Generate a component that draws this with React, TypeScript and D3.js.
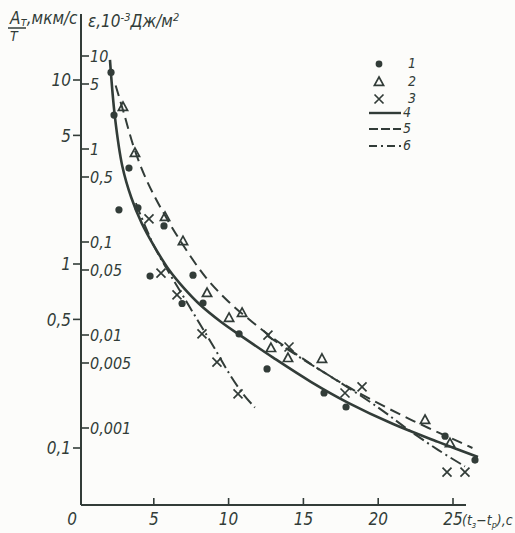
import React from "react";
import * as d3 from "d3";

// ---- data (t in s, A/T in left-axis units) ----
const DOT_T = [2.14, 2.34, 3.34, 2.67, 3.94, 5.68, 4.75, 7.62, 6.89, 8.29, 10.7, 12.57, 16.38, 17.85, 24.47, 26.47];
const DOT_A = [11.0, 6.45, 3.32, 1.97, 2.02, 1.61, 0.86, 0.87, 0.61, 0.614, 0.417, 0.269, 0.199, 0.167, 0.116, 0.086];

const TRI_T = [2.94, 3.74, 5.75, 6.95, 8.56, 10.03, 10.9, 12.83, 13.97, 16.24, 23.13, 24.8];
const TRI_A = [7.13, 4.01, 1.8, 1.33, 0.695, 0.509, 0.542, 0.349, 0.308, 0.305, 0.142, 0.106];

const CROSS_T = [4.68, 5.48, 6.55, 8.22, 9.22, 10.63, 12.63, 14.04, 17.78, 18.92, 24.6, 25.8];
const CROSS_A = [1.76, 0.893, 0.679, 0.417, 0.293, 0.197, 0.411, 0.354, 0.199, 0.215, 0.074, 0.074];

// curve 4 (solid)
const C4_T = [2.07, 2.4, 2.9, 3.5, 4.2, 5.0, 6.0, 7.0, 8.0, 9.5, 11.0, 13.0, 15.5, 18.0, 21.0, 24.0, 26.67];
const C4_A = [12.85, 6.31, 3.39, 2.29, 1.66, 1.259, 0.933, 0.741, 0.61, 0.484, 0.398, 0.309, 0.229, 0.176, 0.135, 0.108, 0.0893];

// curve 5 (dashed)
const C5_T = [2.45, 3.0, 3.7, 4.5, 5.5, 6.9, 8.5, 10.0, 11.5, 13.0, 14.6, 17.2, 19.5, 22.3, 25.2, 26.3];
const C5_A = [9.33, 6.61, 4.22, 2.88, 1.995, 1.288, 0.841, 0.624, 0.49, 0.394, 0.32, 0.234, 0.184, 0.141, 0.11, 0.1];

// curve 6 (dash-dot), two branches
const C6A_T = [3.8, 5.0, 6.0, 7.0, 8.0, 9.0, 10.0, 11.0, 11.76];
const C6A_A = [2.14, 1.259, 0.902, 0.661, 0.484, 0.355, 0.257, 0.195, 0.166];

const C6B_T = [12.6, 15.0, 17.5, 20.0, 22.0, 24.0, 25.8];
const C6B_A = [0.407, 0.302, 0.226, 0.166, 0.126, 0.0977, 0.0794];

const X_TICKS = [5, 10, 15, 20, 25];
const LEFT_TICKS = [10, 5, 1, 0.5, 0.1];
const RIGHT_TICKS = [10, 5, 1, 0.5, 0.1, 0.05, 0.01, 0.005, 0.001];
const LEGEND_LABELS = ["1", "2", "3", "4", "5", "6"];

const INK = "#323c38";
const FONT = "'Liberation Sans Narrow', 'DejaVu Sans Condensed', sans-serif";

const fmt = (v: number) => String(v).replace(".", ",");
const zip = (a: number[], b: number[]) => a.map((v, i) => [v, b[i]] as [number, number]);

export default function App() {
  const W = 515, H = 533;
  const AX = 81, AY = 505;
  const x = d3.scaleLinear().domain([0, 25]).range([79, 453]);
  const yL = d3.scaleLog().domain([0.1, 10]).range([448, 80]);
  const yR = d3.scaleLog().domain([0.001, 10]).range([428, 56]);

  const line = d3
    .line<[number, number]>()
    .x((d) => x(d[0]))
    .y((d) => yL(d[1]))
    .curve(d3.curveCatmullRom.alpha(0.5));

  const tri = (cx: number, cy: number, k: string) => (
    <path key={k} d={`M${cx},${cy - 5}L${cx + 4.6},${cy + 3.4}L${cx - 4.6},${cy + 3.4}Z`} fill="none" stroke={INK} strokeWidth={1.7} strokeLinejoin="miter" />
  );
  const cross = (cx: number, cy: number, k: string) => (
    <path key={k} d={`M${cx - 4.5},${cy - 4.5}L${cx + 4.5},${cy + 4.5}M${cx - 4.5},${cy + 4.5}L${cx + 4.5},${cy - 4.5}`} stroke={INK} strokeWidth={1.7} />
  );

  const textStyle: React.CSSProperties = { fontFamily: FONT, fontStyle: "italic", fill: INK };

  const legY = [64, 82, 99, 113, 129, 146];

  return (
    <svg width={W} height={H} style={{ position: "absolute", left: 0, top: 0, background: "#fcfcfa" }}>
      <rect width={W} height={H} fill="#fcfcfa" />
      {/* axes */}
      <line x1={AX} y1={14} x2={AX} y2={AY} stroke={INK} strokeWidth={2} />
      <line x1={AX} y1={AY} x2={466} y2={AY} stroke={INK} strokeWidth={2} />
      {X_TICKS.map((t) => (
        <g key={"xt" + t}>
          <line x1={x(t)} y1={498} x2={x(t)} y2={AY} stroke={INK} strokeWidth={1.6} />
          <text x={x(t)} y={525} textAnchor="middle" fontSize={17} style={textStyle}>{t}</text>
        </g>
      ))}
      <text x={72} y={525} textAnchor="middle" fontSize={17} style={textStyle}>0</text>
      <text x={462} y={525} fontSize={14} style={textStyle}>
        (t<tspan fontSize={9} dy={3}>з</tspan><tspan dy={-3}>−t</tspan><tspan fontSize={9} dy={3}>р</tspan><tspan dy={-3}>),с</tspan>
      </text>
      {LEFT_TICKS.map((v) => (
        <g key={"lt" + v}>
          <line x1={AX - 8} y1={yL(v)} x2={AX} y2={yL(v)} stroke={INK} strokeWidth={1.6} />
          <text x={AX - 10} y={yL(v)} dy="0.36em" textAnchor="end" fontSize={17} style={textStyle}>{fmt(v)}</text>
        </g>
      ))}
      {RIGHT_TICKS.map((v) => (
        <g key={"rt" + v}>
          <line x1={AX} y1={yR(v)} x2={AX + 8} y2={yR(v)} stroke={INK} strokeWidth={1.6} />
          <text x={AX + 9} y={yR(v)} dy="0.36em" fontSize={16} style={textStyle}>{fmt(v)}</text>
        </g>
      ))}
      {/* axis titles */}
      <text x={10} y={24} fontSize={17} style={textStyle}>
        A<tspan fontSize={12} dy={2}>т</tspan><tspan dy={-2}>,мкм/с</tspan>
      </text>
      <line x1={8} y1={28} x2={26} y2={28} stroke={INK} strokeWidth={1.5} />
      <text x={10} y={41} fontSize={14} style={textStyle}>T</text>
      <text x={88} y={27} fontSize={17} style={textStyle}>
        ε,10<tspan fontSize={11} dy={-6}>-3</tspan><tspan dy={6}>Дж/м</tspan><tspan fontSize={11} dy={-6}>2</tspan>
      </text>

      {/* curves */}
      <path d={line(zip(C4_T, C4_A)) || ""} fill="none" stroke={INK} strokeWidth={2.6} />
      <path d={line(zip(C5_T, C5_A)) || ""} fill="none" stroke={INK} strokeWidth={2} strokeDasharray="11,6" />
      <path d={line(zip(C6A_T, C6A_A)) || ""} fill="none" stroke={INK} strokeWidth={2} strokeDasharray="12,4,2,4" />
      <path d={line(zip(C6B_T, C6B_A)) || ""} fill="none" stroke={INK} strokeWidth={2} strokeDasharray="12,4,2,4" />

      {/* points */}
      {DOT_T.map((t, i) => (
        <circle key={"d" + i} cx={x(t)} cy={yL(DOT_A[i])} r={3.6} fill={INK} />
      ))}
      {TRI_T.map((t, i) => tri(x(t), yL(TRI_A[i]), "t" + i))}
      {CROSS_T.map((t, i) => cross(x(t), yL(CROSS_A[i]), "c" + i))}

      {/* legend */}
      <circle cx={379} cy={legY[0]} r={3.4} fill={INK} />
      {tri(379, legY[1], "lt")}
      {cross(379, legY[2], "lc")}
      <line x1={369} y1={legY[3]} x2={401} y2={legY[3]} stroke={INK} strokeWidth={2.4} />
      <line x1={369} y1={legY[4]} x2={401} y2={legY[4]} stroke={INK} strokeWidth={2} strokeDasharray="9,3" />
      <line x1={369} y1={legY[5]} x2={401} y2={legY[5]} stroke={INK} strokeWidth={2} strokeDasharray="8,4,2,4" />
      {LEGEND_LABELS.map((l, i) => (
        <text key={"ll" + l} x={i < 3 ? 408 : 403} y={legY[i] - 1} dy="0.34em" fontSize={14} style={textStyle}>{l}</text>
      ))}
    </svg>
  );
}
